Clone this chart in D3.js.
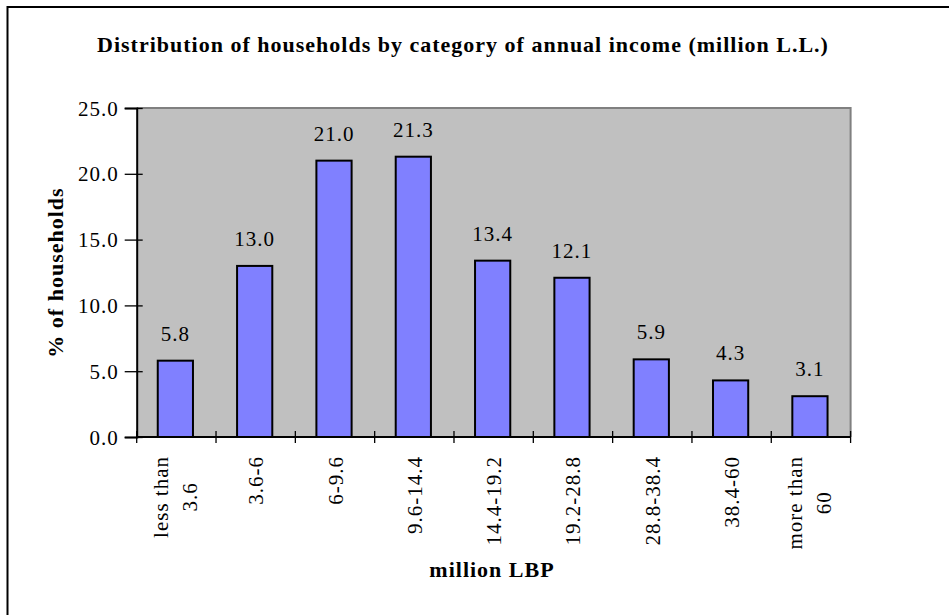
<!DOCTYPE html>
<html>
<head>
<meta charset="utf-8">
<script src="https://cdn.jsdelivr.net/npm/d3@7"></script>
<style>
  html, body { margin: 0; padding: 0; background: #fff; overflow: hidden; }
  svg { display: block; }
  text { font-family: "Liberation Serif", "Times New Roman", serif; fill: #000; }
</style>
</head>
<body>
<svg id="chart" width="949" height="615"></svg>
<script>
// Income brackets (million L.L.), each split into the lines shown under the axis
const categories = ["less than 3.6", "3.6-6", "6-9.6", "9.6-14.4", "14.4-19.2", "19.2-28.8", "28.8-38.4", "38.4-60", "more than 60"];
const categoryLines = [["less than", "3.6"], ["3.6-6"], ["6-9.6"], ["9.6-14.4"], ["14.4-19.2"], ["19.2-28.8"], ["28.8-38.4"], ["38.4-60"], ["more than", "60"]];
// Share of households in each bracket (%)
const shares = [5.8, 13.0, 21.0, 21.3, 13.4, 12.1, 5.9, 4.3, 3.1];
const yTicks = [0, 5, 10, 15, 20, 25];

const titleText = "Distribution of households by category of annual income (million L.L.)";
const xTitle = "million LBP";
const yTitle = "% of households";

const svg = d3.select("#chart");

// chart area frame
svg.append("rect")
  .attr("x", 7.5).attr("y", 7).attr("width", 1000).attr("height", 700)
  .attr("fill", "#fff").attr("stroke", "#000").attr("stroke-width", 2);

const plot = { left: 136.7, right: 850.6, top: 108, bottom: 437 };

const x = d3.scaleBand().domain(categories).range([plot.left, plot.right]).padding(0);
const y = d3.scaleLinear().domain([0, 25]).range([plot.bottom, plot.top]);

// plot background
svg.append("rect")
  .attr("x", plot.left).attr("y", plot.top)
  .attr("width", plot.right - plot.left).attr("height", plot.bottom - plot.top)
  .attr("fill", "#c0c0c0");
// gray top/right frame of the plot area
svg.append("path")
  .attr("d", `M${plot.left},${plot.top}H${plot.right}V${plot.bottom}`)
  .attr("fill", "none").attr("stroke", "#808080").attr("stroke-width", 2);

// bars
const barW = x.bandwidth() * 0.444;
svg.append("g").selectAll("rect")
  .data(shares)
  .join("rect")
  .attr("x", (d, i) => x(categories[i]) + x.bandwidth() / 2 - barW / 2 - 1)
  .attr("y", d => y(d))
  .attr("width", barW)
  .attr("height", d => y(0) - y(d))
  .attr("fill", "#8080ff")
  .attr("stroke", "#000")
  .attr("stroke-width", 2);

// value labels
svg.append("g").selectAll("text")
  .data(shares)
  .join("text")
  .attr("x", (d, i) => x(categories[i]) + x.bandwidth() / 2 - 1)
  .attr("y", d => y(d) - 20)
  .attr("text-anchor", "middle")
  .style("font-size", "21px")
  .style("letter-spacing", "1px")
  .text(d => d3.format(".1f")(d));

// y axis with ticks crossing the axis line
const yAxis = svg.append("g")
  .attr("transform", `translate(${plot.left},0)`)
  .call(d3.axisLeft(y).tickValues(yTicks).tickFormat(d3.format(".1f")).tickSize(12).tickPadding(6));
yAxis.select(".domain").attr("stroke", "#000").attr("stroke-width", 2);
yAxis.selectAll(".tick line").attr("x1", 6).attr("stroke", "#000").attr("stroke-width", 1.3);
yAxis.selectAll(".tick text")
  .style("font-family", "'Liberation Serif', 'Times New Roman', serif")
  .style("font-size", "21px")
  .style("letter-spacing", "1px")
  .attr("dy", "0.34em");

// x axis line and boundary ticks
const xAxis = svg.append("g");
xAxis.append("line")
  .attr("x1", plot.left).attr("x2", plot.right)
  .attr("y1", y(0)).attr("y2", y(0))
  .attr("stroke", "#000").attr("stroke-width", 2);
const bounds = categories.map(c => x(c)).concat([x(categories[categories.length - 1]) + x.bandwidth()]);
xAxis.selectAll("line.tick")
  .data(bounds)
  .join("line")
  .attr("class", "tick")
  .attr("x1", d => d).attr("x2", d => d)
  .attr("y1", y(0) - 6).attr("y2", y(0) + 6)
  .attr("stroke", "#000").attr("stroke-width", 1.3);

// rotated category labels
const labelTop = 456;
const lineGap = 29;
categoryLines.forEach((lines, i) => {
  const cx = x(categories[i]) + x.bandwidth() / 2;
  const g = svg.append("g").attr("transform", `translate(${cx},${labelTop}) rotate(-90)`);
  const texts = lines.map(s => g.append("text")
    .style("font-size", "21px")
    .style("letter-spacing", "1px")
    .text(s));
  if (lines.length === 1) {
    texts[0].attr("text-anchor", "end").attr("x", 0).attr("y", 7.5);
  } else {
    const maxW = d3.max(texts, t => t.node().getComputedTextLength());
    const off0 = -(lines.length - 1) * lineGap / 2 - 1.5;
    texts.forEach((t, k) => {
      t.attr("text-anchor", "middle")
        .attr("x", -maxW / 2)
        .attr("y", off0 + k * lineGap + 7.5);
    });
  }
});

// titles
svg.append("text")
  .attr("x", 463).attr("y", 52)
  .attr("text-anchor", "middle")
  .style("font-size", "22px").style("font-weight", "bold").style("letter-spacing", "1px")
  .text(titleText);

svg.append("text")
  .attr("x", 492).attr("y", 577)
  .attr("text-anchor", "middle")
  .style("font-size", "22px").style("font-weight", "bold").style("letter-spacing", "1px")
  .text(xTitle);

svg.append("text")
  .attr("transform", `translate(63,${(plot.top + plot.bottom) / 2}) rotate(-90)`)
  .attr("text-anchor", "middle")
  .style("font-size", "22px").style("font-weight", "bold").style("letter-spacing", "1px")
  .text(yTitle);
</script>
</body>
</html>
